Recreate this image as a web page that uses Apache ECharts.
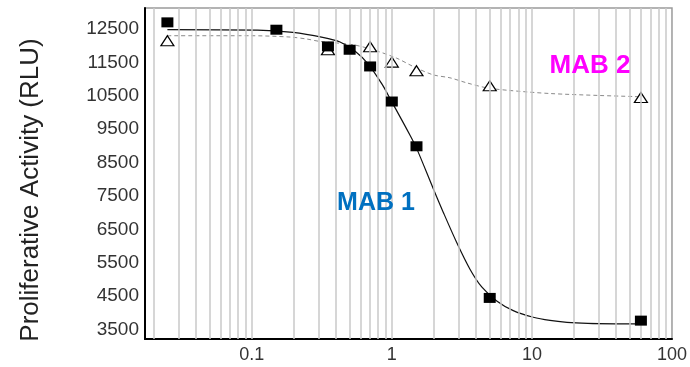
<!DOCTYPE html>
<html>
<head>
<meta charset="utf-8">
<script src="https://cdn.jsdelivr.net/npm/echarts@6/dist/echarts.min.js"></script>
<style>
html,body{margin:0;padding:0;background:#fff;}
#chart{width:690px;height:367px;}
</style>
</head>
<body>
<div id="chart"></div>
<script>
// ---- data ----
const mab1X = [0.025, 0.15, 0.35, 0.5, 0.7, 1.0, 1.5, 5, 60];
const mab1Y = [12700, 12480, 11980, 11880, 11380, 10330, 8990, 4450, 3770];
const mab2X = [0.025, 0.35, 0.7, 1.0, 1.5, 5, 60];
const mab2Y = [12150, 11880, 11970, 11510, 11250, 10800, 10450];

// fitted curves
const fit1X = [0.025, 0.11, 0.197, 0.321, 0.427, 0.55, 0.676, 0.851, 1.0, 1.349, 1.506, 1.977, 2.332, 2.905, 3.614, 4.383, 5.609, 7.362, 10.23, 13.46, 17.8, 25.1, 39.8, 60];
const fit1Y = [12480, 12470, 12400, 12250, 12110, 11830, 11460, 10850, 10320, 9320, 8920, 7720, 7010, 6110, 5310, 4780, 4360, 4070, 3870, 3775, 3720, 3690, 3675, 3670];
const fit2X = [0.025, 0.0975, 0.188, 0.248, 0.306, 0.528, 0.734, 1.08, 1.42, 1.97, 2.6, 3.42, 4.76, 6.98, 13.4, 30.6, 52.5, 60];
const fit2Y = [12300, 12300, 12260, 12200, 12130, 12030, 11880, 11630, 11380, 11130, 11040, 10890, 10740, 10660, 10570, 10510, 10480, 10470];

// axis tick labels and grid positions
const yTickLabels = [3500, 4500, 5500, 6500, 7500, 8500, 9500, 10500, 11500, 12500];
const xTickLabels = [0.1, 1, 10, 100];
const xGridValues = [0.02,0.03,0.04,0.05,0.06,0.07,0.08,0.09,
  0.1,0.2,0.3,0.4,0.5,0.6,0.7,0.8,0.9,
  1,2,3,4,5,6,7,8,9,
  10,20,30,40,50,60,70,80,90];

const zip = (xs, ys) => xs.map((x, i) => [x, ys[i]]);
const FONT = '"Liberation Sans", Arial, sans-serif';

const chart = echarts.init(document.getElementById('chart'), null, {renderer: 'canvas'});
chart.setOption({
  animation: false,
  backgroundColor: '#ffffff',
  grid: {left: 145, right: 18, top: 8, bottom: 28, show: true, borderColor: '#9a9a9a', borderWidth: 1.5, backgroundColor: 'transparent'},
  xAxis: {
    type: 'log', logBase: 10, min: 0.0173, max: 100,
    axisLine: {show: true, onZero: false, lineStyle: {color: '#000', width: 2}},
    axisTick: {show: false},
    splitLine: {show: false},
    minorTick: {show: false},
    axisLabel: {
      margin: 7, color: '#333', fontSize: 18, fontFamily: FONT,
      showMinLabel: true, showMaxLabel: true,
      formatter: function (v) {
        for (const t of xTickLabels) { if (Math.abs(v - t) / t < 1e-6) return String(t); }
        return '';
      }
    }
  },
  yAxis: {
    type: 'value', min: 3220, max: 13130, interval: 10,
    name: 'Proliferative Activity (RLU)', nameLocation: 'middle', nameGap: 101,
    nameTextStyle: {fontSize: 26, color: '#222', fontFamily: FONT, padding: [0, 33, 0, 0]},
    axisLine: {show: true, onZero: false, lineStyle: {color: '#000', width: 2}},
    axisTick: {show: false},
    splitLine: {show: false},
    axisLabel: {
      interval: 0, margin: 6, color: '#333', fontSize: 19, fontFamily: FONT,
      formatter: function (v) {
        const r = Math.round(v);
        return yTickLabels.indexOf(r) >= 0 ? String(r) : '';
      }
    }
  },
  series: [
    {
      type: 'line', data: [], z: 0, silent: true,
      markLine: {
        silent: true, symbol: ['none', 'none'], label: {show: false},
        lineStyle: {type: 'solid', color: '#c9c9c9', width: 1.5},
        emphasis: {disabled: true},
        data: xGridValues.map(v => ({xAxis: v}))
      }
    },
    {
      name: 'MAB 2 fit', type: 'line', data: zip(fit2X, fit2Y), z: 2,
      smooth: 0.3, showSymbol: false, silent: true,
      lineStyle: {color: '#8a8a8a', width: 1, type: [4, 3]}
    },
    {
      name: 'MAB 1 fit', type: 'line', data: zip(fit1X, fit1Y), z: 3,
      smooth: 0.3, showSymbol: false, silent: true,
      lineStyle: {color: '#111', width: 1.2}
    },
    {
      name: 'MAB 2', type: 'scatter', data: zip(mab2X, mab2Y), z: 4,
      symbol: 'triangle', symbolSize: [13, 10],
      itemStyle: {color: '#fff', borderColor: '#000', borderWidth: 1.2, opacity: 1}
    },
    {
      name: 'MAB 1', type: 'scatter', data: zip(mab1X, mab1Y), z: 5,
      symbol: 'rect', symbolSize: [12, 10],
      itemStyle: {color: '#000', opacity: 1}
    }
  ],
  graphic: [
    {type: 'text', x: 376, y: 203, z: 10, style: {text: 'MAB 1', fill: '#0070C0', font: 'bold 25px ' + FONT, align: 'center', verticalAlign: 'middle', textAlign: 'center', textVerticalAlign: 'middle'}},
    {type: 'text', x: 590, y: 66, z: 10, style: {text: 'MAB 2', fill: '#FF00FF', font: 'bold 26px ' + FONT, align: 'center', verticalAlign: 'middle', textAlign: 'center', textVerticalAlign: 'middle'}}
  ]
});
</script>
</body>
</html>
